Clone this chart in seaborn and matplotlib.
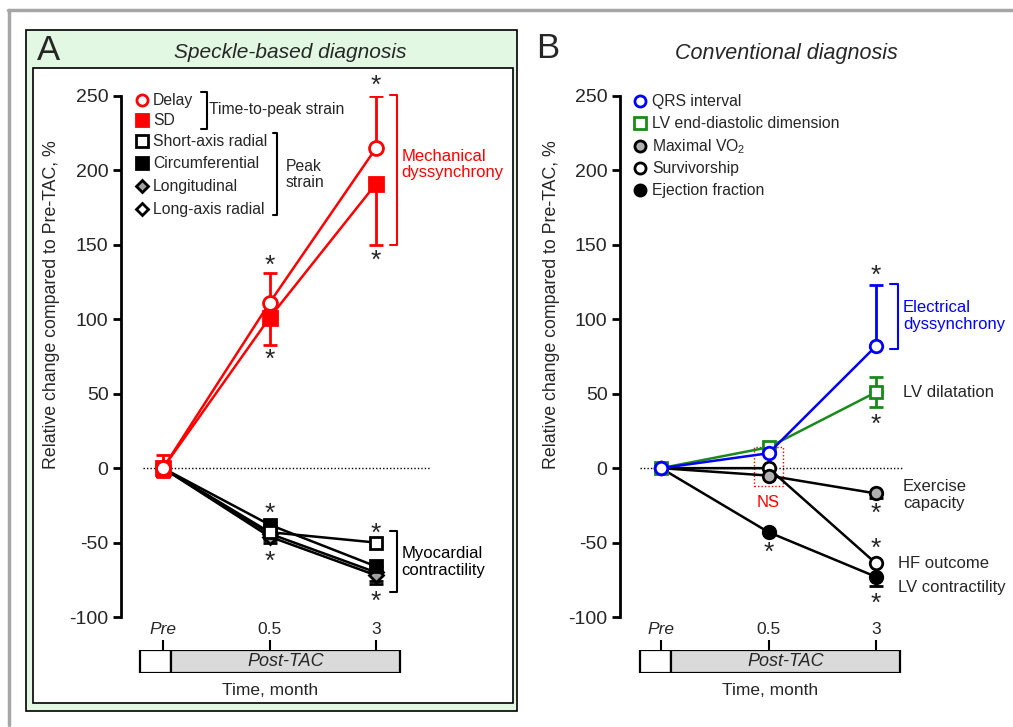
import matplotlib
matplotlib.use("Agg")
import matplotlib.pyplot as plt
from matplotlib.patches import Rectangle
from matplotlib.lines import Line2D
import seaborn as sns
import pandas as pd

sns.set_theme(style="white")
plt.rcParams['font.family'] = ['Liberation Sans', 'DejaVu Sans']
plt.rcParams['mathtext.fontset'] = 'custom'
plt.rcParams['mathtext.rm'] = 'Liberation Sans'
plt.rcParams['axes.unicode_minus'] = False

# time points
times = [0, 1, 2]
time_labels = ["Pre", "0.5", "3"]

# panel A - speckle based
delay = [0, 111, 215]
delay_err = [9, 20, 35]
sd = [0, 101, 191]
sd_err = [6, 18, 41]
short_axis_radial = [0, -43, -50]
circumferential = [0, -38, -66]
longitudinal = [0, -46, -72]
long_axis_radial = [0, -44, -70]
black_err = [5, 4, 6]

# panel B - conventional
qrs = [0, 10, 82]
qrs_err = [0, 0, 41]
lvedd = [0, 14, 51]
lvedd_err = [0, 0, 10]
vo2 = [0, -5, -17]
vo2_err = [0, 0, 3]
survivorship = [0, 0, -64]
ef = [0, -43, -73]
ef_err = [0, 0, 6]

W, H = 1013, 727
fig = plt.figure(figsize=(W / 100, H / 100), dpi=100)
fig.patch.set_facecolor("white")


def frect(l, t, r, b):
    return [l / W, 1 - b / H, (r - l) / W, (b - t) / H]


# outer gray frame (top + left only)
fig.add_artist(Line2D([8 / W, 1], [1 - 10 / H] * 2, color="#a6a6a6", lw=2.5, transform=fig.transFigure))
fig.add_artist(Line2D([9 / W] * 2, [1 - 10 / H, 1 - 725 / H], color="#a6a6a6", lw=2.5, transform=fig.transFigure))
# green box for panel A
fig.add_artist(Rectangle((26 / W, 1 - 711 / H), 491 / W, 681 / H, transform=fig.transFigure,
                         facecolor="#e2f8e2", edgecolor="black", lw=1.2, zorder=-10))
fig.add_artist(Rectangle((33 / W, 1 - 703 / H), 480 / W, 635 / H, transform=fig.transFigure,
                         facecolor="white", edgecolor="black", lw=1.2, zorder=-9))


def make_axes(x0, step, left, right):
    ax = fig.add_axes(frect(left, 96, right, 617))
    ax.set_facecolor("none")
    ax.set_xlim((left - x0) / step, (right - x0) / step)
    ax.set_ylim(-100, 250)
    for s in ["top", "right", "bottom"]:
        ax.spines[s].set_visible(False)
    ax.spines["left"].set_color("black")
    ax.spines["left"].set_linewidth(2)
    ax.set_xticks([])
    ax.set_yticks(range(-100, 251, 50))
    ax.tick_params(axis="y", left=True, length=6, width=2, color="black", labelsize=14, pad=3)
    ax.grid(False)
    return ax


def bar_axes(x0, step, left, right, bar_l, bar_m, bar_r):
    bx = fig.add_axes(frect(left, 650, right, 673))
    bx.set_facecolor("none")
    bx.set_xlim((left - x0) / step, (right - x0) / step)
    bx.set_ylim(0, 1)
    for s in bx.spines.values():
        s.set_visible(False)
    l, m, r = [(p - x0) / step for p in (bar_l, bar_m, bar_r)]
    bx.axvspan(l, m, ymin=0, ymax=1, facecolor="white", edgecolor="black", lw=1.6)
    bx.axvspan(m, r, ymin=0, ymax=1, facecolor="#dadada", edgecolor="black", lw=1.6)
    bx.text((m + r) / 2, 0.5, "Post-TAC", style="italic", ha="center", va="center", fontsize=13)
    bx.set_yticks([])
    bx.set_xticks(times)
    bx.set_xticklabels(time_labels, fontsize=12.5)
    bx.xaxis.set_ticks_position("top")
    bx.tick_params(axis="x", top=True, bottom=False, length=7, width=1.5, color="black", pad=2)
    bx.get_xticklabels()[0].set_style("italic")
    bx.text((l + r) / 2, -0.75, "Time, month", ha="center", va="center", fontsize=12.5)
    bx.grid(False)
    return bx


def series(ax, y, color, marker, mfc, ms=9, err=None, up=True):
    if err is not None:
        lo = [0] * len(err) if up else err
        hi = err if up else [0] * len(err)
        ax.errorbar(times, y, yerr=[lo, hi], fmt="none", ecolor=color, elinewidth=2,
                    capsize=5, capthick=2, zorder=2)
    df = pd.DataFrame({"t": times, "v": y})
    sns.lineplot(data=df, x="t", y="v", ax=ax, color=color, marker=marker, markersize=ms,
                 markerfacecolor=mfc, markeredgecolor=color, markeredgewidth=2, linewidth=1.8,
                 zorder=3, clip_on=False)
    ax.set_xlabel("")
    ax.set_ylabel("")


def star(ax, x, y):
    ax.text(x, y, "*", ha="center", va="center", fontsize=19, clip_on=False)


def bracket(ax, x0, x1, y0, y1, color="black"):
    ax.plot([x0, x1, x1, x0], [y0, y0, y1, y1], color=color, lw=1.5, clip_on=False)


# ---------------- Panel A ----------------
xa0, sa = 163, 106.5
axA = make_axes(xa0, sa, 121, 520)
axA.plot([(143 - xa0) / sa, (430 - xa0) / sa], [0, 0], color="black", ls=(0, (1, 1.5)), lw=1)

series(axA, long_axis_radial, "black", "D", "white", ms=7, err=black_err, up=False)
series(axA, longitudinal, "black", "D", "#a0a0a0", ms=7, err=black_err, up=False)
series(axA, circumferential, "black", "s", "black", ms=9, err=black_err, up=False)
series(axA, short_axis_radial, "black", "s", "white", ms=9)
series(axA, sd, "red", "s", "red", ms=10, err=sd_err, up=False)
series(axA, delay, "red", "o", "white", ms=10, err=delay_err, up=True)

for x, y in [(1, 136), (1, 73), (2, 257), (2, 139), (1, -31), (1, -63), (2, -44), (2, -90)]:
    star(axA, x, y)

bracket(axA, 2.13, 2.2, 251, 150, "red")
axA.text(2.24, 204, "Mechanical\ndyssynchrony", color="red", fontsize=12, va="center", ha="left",
         linespacing=1.15)
bracket(axA, 2.13, 2.2, -42, -83)
axA.text(2.24, -63, "Myocardial\ncontractility", color="black", fontsize=12, va="center", ha="left",
         linespacing=1.15)

# legend A
leg_a = [("Delay", "o", "white", "red"), ("SD", "s", "red", "red"),
         ("Short-axis radial", "s", "white", "black"), ("Circumferential", "s", "black", "black"),
         ("Longitudinal", "D", "#a0a0a0", "black"), ("Long-axis radial", "D", "white", "black")]
rows_a = [247, 233.6, 219.5, 204.8, 189.3, 173.9]
for (lab, m, fc, ec), yy in zip(leg_a, rows_a):
    axA.plot([-0.2], [yy], marker=m, ms=8 if m != "D" else 6.5, mfc=fc, mec=ec, mew=2, ls="none",
             clip_on=False)
    axA.text(-0.094, yy, lab, fontsize=11.3, va="center", ha="left")
bracket(axA, 0.36, 0.41, 252.5, 228)
axA.text(0.43, 241, "Time-to-peak strain", fontsize=11.3, va="center", ha="left")
bracket(axA, 1.03, 1.075, 225, 170)
axA.text(1.15, 197, "Peak\nstrain", fontsize=11.3, va="center", ha="left", linespacing=1.1)

bar_axes(xa0, sa, 121, 520, 140, 171, 400)
fig.text(52 / W, 1 - 305 / H, "Relative change compared to Pre-TAC, %", rotation=90,
         ha="center", va="center", fontsize=12.8)
fig.text(37 / W, 1 - 50 / H, "A", fontsize=25, ha="left", va="center")
fig.text(290 / W, 1 - 53 / H, "Speckle-based diagnosis", style="italic", fontsize=15,
         ha="center", va="center")

# ---------------- Panel B ----------------
xb0, sb = 661, 107.5
axB = make_axes(xb0, sb, 620, 1010)
axB.plot([(640 - xb0) / sb, (902 - xb0) / sb], [0, 0], color="black", ls=(0, (1, 1.5)), lw=1)

series(axB, ef, "black", "o", "black", err=ef_err, up=False)
series(axB, survivorship, "black", "o", "white")
series(axB, vo2, "black", "o", "#b0b0b0", err=vo2_err, up=False)
series(axB, lvedd, "#1a8a1a", "s", "white", err=lvedd_err, up=False)
axB.errorbar(times, lvedd, yerr=[[0] * 3, lvedd_err], fmt="none", ecolor="#1a8a1a", elinewidth=2,
             capsize=5, capthick=2, zorder=2)
series(axB, qrs, "blue", "o", "white", err=qrs_err, up=True)

axB.add_patch(Rectangle((0.865, -12), 0.27, 26, fill=False, edgecolor="red", ls=(0, (1, 1.5)), lw=1))
axB.text(1.0, -23, "NS", color="red", fontsize=12, ha="center", va="center")

for x, y in [(2, 129), (2, 29), (2, -31), (2, -54), (2, -91), (1, -57)]:
    star(axB, x, y)

bracket(axB, 2.13, 2.2, 124, 80, "blue")
axB.text(2.25, 102, "Electrical\ndyssynchrony", color="blue", fontsize=12, va="center", ha="left",
         linespacing=1.15)
axB.text(2.25, 51, "LV dilatation", fontsize=12, va="center", ha="left")
axB.text(2.25, -18, "Exercise\ncapacity", fontsize=12, va="center", ha="left", linespacing=1.15)
axB.text(2.2, -64, "HF outcome", fontsize=12, va="center", ha="left")
axB.text(2.2, -80, "LV contractility", fontsize=12, va="center", ha="left")

leg_b = [("QRS interval", "white", "blue", "o"),
         ("LV end-diastolic dimension", "white", "#1a8a1a", "s"),
         ("Maximal VO$_2$", "#b0b0b0", "black", "o"),
         ("Survivorship", "white", "black", "o"),
         ("Ejection fraction", "black", "black", "o")]
rows_b = [246.5, 231.6, 216.3, 201.5, 186.8]
for (lab, fc, ec, m), yy in zip(leg_b, rows_b):
    axB.plot([(640 - xb0) / sb], [yy], marker=m, ms=8, mfc=fc, mec=ec, mew=2, ls="none",
             clip_on=False)
    axB.text((652 - xb0) / sb, yy, lab, fontsize=11.3, va="center", ha="left")

bar_axes(xb0, sb, 620, 1010, 640, 671, 900)
fig.text(552 / W, 1 - 305 / H, "Relative change compared to Pre-TAC, %", rotation=90,
         ha="center", va="center", fontsize=12.8)
fig.text(536 / W, 1 - 48 / H, "B", fontsize=25, ha="left", va="center")
fig.text(786 / W, 1 - 54 / H, "Conventional diagnosis", style="italic", fontsize=15.5,
         ha="center", va="center")

fig.savefig("out.png", dpi=100, facecolor="white")
